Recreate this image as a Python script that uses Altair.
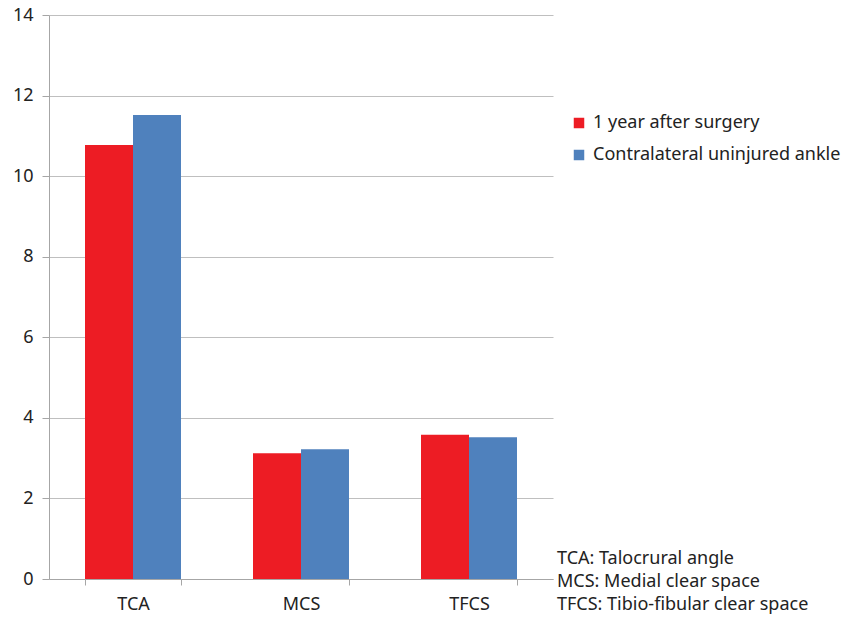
import altair as alt
import pandas as pd

categories = ["TCA", "MCS", "TFCS"]
series_names = ["1 year after surgery", "Contralateral uninjured ankle"]
after_surgery = [10.77, 3.12, 3.58]
contralateral = [11.52, 3.22, 3.52]
y_ticks = [0, 2, 4, 6, 8, 10, 12, 14]
note_lines = ["TCA: Talocrural angle", "MCS: Medial clear space", "TFCS: Tibio-fibular clear space"]

rows = []
for c, a, b in zip(categories, after_surgery, contralateral):
    rows.append({"cat": c, "series": series_names[0], "value": a})
    rows.append({"cat": c, "series": series_names[1], "value": b})
df = pd.DataFrame(rows)

FONT = "Noto Sans"
TXT = "#222222"

bars = alt.Chart(df).mark_bar().encode(
    x=alt.X("cat:N", sort=categories, title=None,
            scale=alt.Scale(paddingInner=0.4286, paddingOuter=0.2143),
            axis=alt.Axis(labelAngle=0, labelFontSize=18, labelFont=FONT, labelColor=TXT,
                          labelPadding=10, tickBand="extent", tickSize=6, tickColor="#A6A6A6",
                          domainColor="#A6A6A6", grid=False)),
    xOffset=alt.XOffset("series:N", sort=series_names,
                        scale=alt.Scale(paddingInner=0, paddingOuter=0)),
    y=alt.Y("value:Q", title=None,
            scale=alt.Scale(domain=[0, 14], nice=False),
            axis=alt.Axis(values=y_ticks, labelFontSize=18, labelFont=FONT, labelColor=TXT,
                          labelPadding=9, tickSize=7, tickColor="#A6A6A6",
                          domainColor="#A6A6A6", gridColor="#BFBFBF")),
    color=alt.Color("series:N", sort=series_names, title=None,
                    scale=alt.Scale(domain=series_names, range=["#ED1C24", "#4F81BD"]),
                    legend=alt.Legend(orient="none", legendX=521, legendY=99,
                                      symbolType="square", symbolSize=110, symbolStrokeWidth=0,
                                      labelFontSize=18, labelFont=FONT, labelColor=TXT,
                                      labelLimit=400, rowPadding=14, labelOffset=5)),
)

notes = alt.Chart(pd.DataFrame({"k": [0]})).mark_text(
    text=note_lines, align="left", baseline="top", fontSize=18, font=FONT,
    color=TXT, lineHeight=23
).encode(x=alt.value(508), y=alt.value(535))

chart = alt.layer(bars, notes).properties(
    width=504, height=564,
    background="white",
    autosize=alt.AutoSizeParams(type="none"),
    padding={"left": 49, "top": 15, "right": 289, "bottom": 41},
).configure_view(stroke=None)

chart.save("out.html", embed_options={"renderer": "svg", "actions": False})
